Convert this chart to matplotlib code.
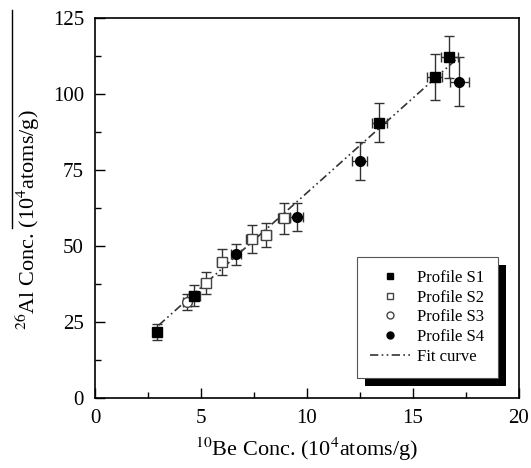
import numpy as np
import matplotlib.pyplot as plt
from matplotlib.patches import Rectangle
from matplotlib.lines import Line2D

plt.rcParams['font.family'] = ['Liberation Serif', 'DejaVu Serif']
plt.rcParams['mathtext.fontset'] = 'stix'

# Profile S1 (filled squares)
s1_x = [2.91, 4.69, 13.41, 16.04, 16.71]
s1_y = [21.8, 33.7, 90.6, 105.5, 112.1]
s1_xerr = [0.12, 0.25, 0.35, 0.35, 0.4]
s1_yerr = [2.6, 3.5, 6.5, 7.6, 7.0]

# Profile S2 (open squares)
s2_x = [5.22, 5.97, 7.39, 8.07, 8.92]
s2_y = [37.9, 44.8, 52.2, 53.6, 59.1]
s2_xerr = [0.2, 0.2, 0.25, 0.25, 0.3]
s2_yerr = [3.6, 4.2, 4.6, 4.0, 5.0]

# Profile S3 (open circles)
s3_x = [4.35]
s3_y = [31.7]
s3_xerr = [0.2]
s3_yerr = [2.6]

# Profile S4 (filled circles)
s4_x = [6.65, 9.51, 12.5, 17.18]
s4_y = [47.2, 59.6, 77.9, 104.0]
s4_xerr = [0.25, 0.3, 0.35, 0.45]
s4_yerr = [3.6, 4.6, 6.2, 8.0]

# fit line end points
fit_x = [3.0, 17.1]
fit_y = [23.9, 111.7]

fig = plt.figure(figsize=[5.31, 4.68], dpi=100)
ax = fig.add_axes([0.179, 0.1496, 0.798, 0.812])

ekw = dict(ecolor='#333333', elinewidth=1.0, capsize=3.5, capthick=1.0,
           linestyle='none', zorder=3)
ax.plot(fit_x, fit_y, color='#333333', lw=1.2,
        linestyle=(0, (5, 2, 1, 2, 1, 2)), zorder=2)
ax.errorbar(s2_x, s2_y, xerr=s2_xerr, yerr=s2_yerr, marker='s', ms=7,
            mfc='white', mec='#444444', mew=1.0, **ekw)
ax.errorbar(s3_x, s3_y, xerr=s3_xerr, yerr=s3_yerr, marker='o', ms=7,
            mfc='white', mec='#444444', mew=1.0, **ekw)
ax.errorbar(s1_x, s1_y, xerr=s1_xerr, yerr=s1_yerr, marker='s', ms=7,
            mfc='black', mec='black', **ekw)
ax.errorbar(s4_x, s4_y, xerr=s4_xerr, yerr=s4_yerr, marker='o', ms=7,
            mfc='black', mec='black', **ekw)

ax.set_xlim(0, 20)
ax.set_ylim(0, 125)
ax.set_xticks([0, 5, 10, 15, 20])
ax.set_xticks([2.5, 7.5, 12.5, 17.5], minor=True)
ax.set_yticks([0, 25, 50, 75, 100, 125])
ax.set_yticks([12.5, 37.5, 62.5, 87.5, 112.5], minor=True)
ax.tick_params(which='both', direction='in', labelsize=15, width=1.0, pad=8)
ax.tick_params(which='major', length=7)
ax.tick_params(which='minor', length=4)
for sp in ax.spines.values():
    sp.set_linewidth(1.2)

ax.set_xlabel('$^{10}$Be Conc. (10$^4$atoms/g)', fontsize=16, labelpad=5)
ax.set_ylabel('$^{26}$Al Conc. (10$^4$atoms/g)', fontsize=16)
ax.yaxis.set_label_coords(-0.125, 0.47)

handles = [
    Line2D([], [], marker='s', ls='none', mfc='black', mec='black', ms=5),
    Line2D([], [], marker='s', ls='none', mfc='white', mec='#444444', ms=5),
    Line2D([], [], marker='o', ls='none', mfc='white', mec='#444444', ms=5),
    Line2D([], [], marker='o', ls='none', mfc='black', mec='black', ms=5),
    Line2D([], [], color='#333333', lw=1.2, ls=(0, (5, 2, 1, 2, 1, 2))),
]
labels = ['Profile S1', 'Profile S2', 'Profile S3', 'Profile S4', 'Fit curve']
leg = ax.legend(handles, labels, loc='lower right',
                bbox_to_anchor=(0.950, 0.053), borderaxespad=0,
                fontsize=12, frameon=True, fancybox=False, framealpha=1,
                facecolor='white', edgecolor='#555555',
                borderpad=0.8, labelspacing=0.22, handlelength=2.4,
                handletextpad=0.4)
leg.get_frame().set_linewidth(0.8)
leg.set_zorder(6)

# black drop shadow behind the legend
fig.canvas.draw()
bb = leg.get_window_extent().transformed(fig.transFigure.inverted())
dx, dy = 8 / 531, -8 / 468
ax.add_patch(Rectangle((bb.x0 + dx, bb.y0 + dy), bb.width, bb.height,
                       transform=fig.transFigure, facecolor='black',
                       edgecolor='none', zorder=5))

# stray vertical line at left edge
fig.add_artist(Line2D([12 / 531, 12 / 531], [1 - 10 / 468, 1 - 228 / 468],
                      color='black', lw=1.0))

fig.savefig('out.png', dpi=100)
